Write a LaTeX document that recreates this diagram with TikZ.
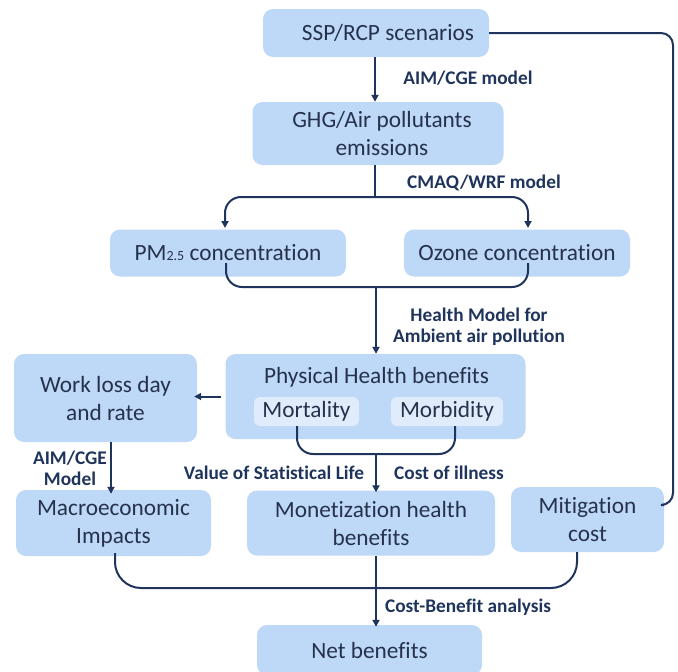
\documentclass[tikz,border=0pt]{standalone}
\usepackage{fontspec}
\setmainfont{Carlito}[Ligatures=NoCommon]
\usetikzlibrary{arrows.meta}
\definecolor{boxfill}{RGB}{190,216,248}
\definecolor{subfill}{RGB}{224,235,251}
\definecolor{txt}{RGB}{38,50,76}
\definecolor{ln}{RGB}{31,52,92}
\begin{document}
\begin{tikzpicture}[x=1pt,y=-1pt,
  box/.style={fill=boxfill, rounded corners=10pt, inner sep=0pt, text=txt,
    font=\fontsize{23.3}{28}\selectfont, align=center},
  subbox/.style={fill=subfill, rounded corners=6pt, inner sep=0pt, text=txt,
    font=\fontsize{23.3}{28}\selectfont},
  lbl/.style={text=ln, font=\bfseries\fontsize{19.3}{21}\selectfont, align=center, inner sep=0pt},
  conn/.style={draw=ln, line width=2pt, rounded corners=16pt},
  arr/.style={conn, -{Triangle[length=7pt,width=7pt]}}]
\useasboundingbox (0,0) rectangle (678,672);

% boxes
\node[box, minimum width=226pt, minimum height=48pt] (ssp) at (376,33) {\hspace*{24pt}SSP/RCP scenarios};
\node[box, minimum width=251pt, minimum height=63pt] (ghg) at (378,133.5) {\hspace*{8pt}GHG/Air pollutants\\\hspace*{8pt}emissions};
\node[box, minimum width=236pt, minimum height=47pt] (pm) at (228,253) {PM{\fontsize{14}{16}\selectfont 2.5} concentration};
\node[box, minimum width=226pt, minimum height=47pt] (oz) at (517,253) {Ozone concentration};
\node[box, minimum width=300pt, minimum height=85pt] (phys) at (375.5,396.5) {};
\node[text=txt, font=\fontsize{23.3}{28}\selectfont, inner sep=0pt] (physt) at (376.5,377) {Physical Health benefits};
\node[subbox, minimum width=105pt, minimum height=29pt] (mort) at (306.5,411.5) {Mortality};
\node[subbox, minimum width=112pt, minimum height=29pt] (morb) at (447,411.5) {Morbidity};
\node[box, minimum width=183pt, minimum height=88pt] (work) at (105.5,398) {Work loss day\\and rate};
\node[box, minimum width=195pt, minimum height=66pt] (macro) at (113.5,523) {Macroeconomic\\Impacts};
\node[box, minimum width=248pt, minimum height=65pt] (mon) at (371,523) {Monetization health\\benefits};
\node[box, minimum width=153pt, minimum height=65pt] (mit) at (587.5,519.5) {Mitigation\\cost};
\node[box, minimum width=225pt, minimum height=50pt] (net) at (369.5,650) {Net benefits};

% labels
\node[lbl] (l1) at (468,78) {AIM/CGE model};
\node[lbl] (l2) at (484,183) {CMAQ/WRF model};
\node[lbl] (l3) at (479,327) {Health Model for\\Ambient air pollution};
\node[lbl] (l4) at (274,473) {Value of Statistical Life};
\node[lbl] (l5) at (449,473) {Cost of illness};
\node[lbl] (l6) at (70,468) {AIM/CGE\\Model};
\node[lbl] (l7) at (468,607) {Cost-Benefit analysis};

% coordinates
\coordinate (split) at (375,197);
\coordinate (pmin) at (225,228);
\coordinate (ozin) at (528,228);
\coordinate (pmout) at (226,263);
\coordinate (ozout) at (528,263);
\coordinate (join1) at (376,287);
\coordinate (mortout) at (297,426);
\coordinate (morbout) at (455,426);
\coordinate (join2) at (376,454);
\coordinate (macout) at (115,553);
\coordinate (mitout) at (577,552);
\coordinate (join3) at (376,588);
\coordinate (rc) at (673,505);

% connectors
\draw[arr] (ssp.south -| split) -- (ghg.north -| split);
\draw[conn] (ghg.south -| split) -- (split);
\draw[arr] (split) -| (pmin);
\draw[arr] (split) -| (ozin);
\draw[conn] (pmout) |- (join1) -| (ozout);
\draw[arr] (join1) -- (phys.north -| join1);
\draw[arr] ([xshift=-4pt]phys.west) -- ([xshift=-3pt]work.east |- phys.west);
\draw[conn] (mortout) |- (join2) -| (morbout);
\draw[arr] (join2) -- ([yshift=-2pt]mon.north -| join2);
\draw[arr] (work.south -| 111,0) -- ([yshift=-4pt]macro.north -| 111,0);
\draw[conn, rounded corners=26pt] (macout) |- (join3) -| (mitout);
\draw[arr] (mon.south -| join3) -- ([yshift=-2pt]net.north -| join3);
\draw[conn, rounded corners=12pt] (ssp.east) -| (rc) -- (mit.east |- rc);
\end{tikzpicture}
\end{document}
